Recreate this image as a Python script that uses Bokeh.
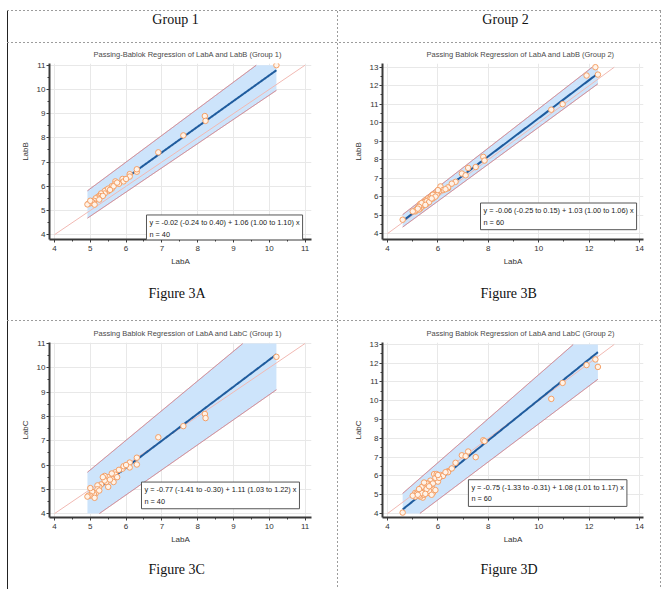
import numpy as np
from bokeh.plotting import figure
from bokeh.models import Range1d, Label, SingleIntervalTicker, Title, Spacer
from bokeh.layouts import row, column
from bokeh.embed import file_html
from bokeh.resources import INLINE

# ---------------- data ----------------
group_names = ["Group 1", "Group 2"]
figure_captions = ["Figure 3A", "Figure 3B", "Figure 3C", "Figure 3D"]
plot_titles = [
    "Passing-Bablok Regression of LabA and LabB (Group 1)",
    "Passing Bablok Regression of LabA and LabB (Group 2)",
    "Passing Bablok Regression of LabA and LabC (Group 1)",
    "Passing Bablok Regression of LabA and LabC (Group 2)",
]
x_label = "LabA"
y_labels = ["LabB", "LabB", "LabC", "LabC"]

g1_labA = [10.20, 8.20, 8.22, 7.60, 6.90, 6.30, 6.30, 6.10, 6.10, 5.90,
           5.93, 5.70, 5.70, 5.60, 5.50, 5.45, 5.40, 5.40, 5.30, 5.25,
           5.20, 5.20, 5.15, 5.10, 5.10, 5.05, 5.00, 4.95, 4.92, 5.12,
           5.60, 5.80, 5.50, 5.35, 5.65, 6.00, 5.25, 5.75, 5.55, 5.00]
g1_labB = [11.00, 8.90, 8.70, 8.10, 7.40, 6.60, 6.70, 6.50, 6.40, 6.30,
           6.20, 6.20, 6.10, 6.00, 5.80, 5.85, 5.80, 5.70, 5.70, 5.60,
           5.55, 5.50, 5.50, 5.40, 5.30, 5.35, 5.30, 5.28, 5.25, 5.24,
           5.90, 6.10, 5.90, 5.60, 6.00, 6.30, 5.45, 6.15, 5.85, 5.40]
g1_labC = [10.45, 8.10, 7.93, 7.60, 7.14, 6.30, 6.02, 6.10, 5.90, 5.85,
           5.95, 5.70, 5.60, 5.43, 5.50, 5.30, 5.55, 5.36, 5.20, 5.10,
           5.16, 5.00, 4.83, 4.75, 4.80, 4.90, 4.74, 4.74, 4.70, 4.65,
           5.65, 5.80, 5.10, 5.50, 5.30, 6.00, 4.95, 5.50, 5.40, 5.05]

g2_labA = [12.25, 11.90, 12.35, 10.95, 10.50, 7.80, 7.85, 7.20, 7.50, 6.95,
           7.10, 6.70, 6.40, 6.10, 6.40, 5.85, 5.70, 5.60, 5.40, 5.30,
           5.10, 4.60, 6.00, 5.80, 5.80, 5.60, 5.20, 5.40, 5.15, 5.50,
           5.50, 5.30, 5.70, 5.90, 5.60, 5.35, 5.45, 5.65, 5.25, 5.55,
           6.20, 6.05, 5.75, 5.95, 5.30, 5.10, 5.45, 5.55, 5.80, 6.30,
           5.65, 5.35, 5.25, 5.00, 5.90, 6.55, 5.75, 5.50, 5.20, 6.00]
g2_labB = [13.00, 12.55, 12.60, 11.00, 10.70, 8.15, 7.95, 7.55, 7.60, 7.25,
           7.15, 6.80, 6.45, 6.55, 6.50, 6.15, 5.95, 5.80, 5.60, 5.35,
           5.20, 4.75, 6.20, 6.00, 5.90, 5.75, 5.40, 5.50, 5.30, 5.65,
           5.80, 5.50, 5.85, 6.05, 5.90, 5.45, 5.70, 5.85, 5.30, 5.60,
           6.35, 6.30, 6.05, 6.10, 5.60, 5.25, 5.55, 5.75, 6.10, 6.40,
           5.70, 5.65, 5.45, 5.20, 6.00, 6.70, 5.90, 5.55, 5.35, 6.35]
g2_labC = [12.20, 11.90, 11.80, 10.95, 10.10, 7.90, 7.85, 7.30, 7.00, 7.10,
           7.05, 6.70, 6.25, 6.05, 6.20, 6.10, 5.75, 5.60, 5.45, 5.30,
           5.10, 4.05, 5.70, 5.30, 5.10, 5.10, 5.10, 4.85, 5.05, 5.50,
           5.20, 4.90, 5.50, 5.90, 5.35, 5.40, 5.00, 5.20, 4.95, 5.60,
           6.00, 5.90, 5.55, 6.10, 5.20, 4.90, 5.65, 5.30, 5.60, 6.20,
           5.45, 5.10, 5.30, 4.95, 5.25, 6.40, 5.00, 5.05, 5.00, 6.05]

# Passing-Bablok estimates: [estimate, lower 95% CI, upper 95% CI]
intercepts = [[-0.02, -0.24, 0.40], [-0.06, -0.25, 0.15],
              [-0.77, -1.41, -0.30], [-0.75, -1.33, -0.31]]
slopes = [[1.06, 1.00, 1.10], [1.03, 1.00, 1.06],
          [1.11, 1.03, 1.22], [1.08, 1.01, 1.17]]

panel_x = [g1_labA, g2_labA, g1_labA, g2_labA]
panel_y = [g1_labB, g2_labB, g1_labC, g2_labC]

# ---------------- styles / layout ----------------
DASH_V = {"background-image": "repeating-linear-gradient(to bottom, #9c9c9c 0px, #9c9c9c 2px, transparent 2px, transparent 4px)"}
DASH_H = {"background-image": "repeating-linear-gradient(to right, #9c9c9c 0px, #9c9c9c 2px, transparent 2px, transparent 4px)"}
SOLID = {"background-color": "#222222"}

specs = [
    dict(w=329, h=277, b=(41, 26, 20, 81), xr=(3.86, 11.18), yr=(3.80, 11.07),
         cx=(4, 11), cy=(4, 11), xt=1, eq=(6.57, 3.71), cap_off=99, cap_sd=30),
    dict(w=322, h=277, b=(44, 17, 19, 79), xr=(3.80, 14.16), yr=(3.68, 13.20),
         cx=(4, 14), cy=(4, 13), xt=2, eq=(7.69, 4.21), cap_off=98, cap_sd=30),
    dict(w=329, h=268, b=(41, 26, 21, 72), xr=(3.86, 11.18), yr=(3.84, 11.04),
         cx=(4, 11), cy=(4, 11), xt=1, eq=(6.43, 4.20), cap_off=99, cap_sd=26),
    dict(w=322, h=268, b=(44, 17, 21, 72), xr=(3.80, 14.16), yr=(3.79, 13.10),
         cx=(4, 14), cy=(4, 13), xt=2, eq=(7.21, 4.38), cap_off=98, cap_sd=26),
]


def make_panel(i):
    s = specs[i]
    xs = np.array(panel_x[i], dtype=float)
    ys = np.array(panel_y[i], dtype=float)
    a, b = intercepts[i], slopes[i]
    p = figure(width=s["w"], height=s["h"],
               x_range=Range1d(*s["xr"]), y_range=Range1d(*s["yr"]),
               output_backend="svg", toolbar_location=None,
               min_border_left=s["b"][0], min_border_right=s["b"][1],
               min_border_top=s["b"][2], min_border_bottom=s["b"][3])
    p.outline_line_color = None
    p.background_fill_color = "white"
    p.border_fill_color = "white"

    p.title.text = plot_titles[i]
    p.title.align = "left"
    p.title.offset = 44
    p.title.text_font = "Liberation Sans"
    p.title.text_font_size = "7.5px"
    p.title.text_font_style = "normal"
    p.title.text_color = "#4a4a4a"
    p.title.standoff = 9

    ylo, yhi = s["cy"]
    xx = np.linspace(xs.min(), xs.max(), 600)
    upper = a[2] + b[2] * xx
    lower = a[1] + b[1] * xx
    p.varea(x=xx, y1=np.clip(lower, ylo, yhi), y2=np.clip(upper, ylo, yhi),
            fill_color="#cde4fb", fill_alpha=1.0)
    up_line = np.where((upper <= yhi) & (upper >= ylo), upper, np.nan)
    lo_line = np.where((lower <= yhi) & (lower >= ylo), lower, np.nan)
    p.line(xx, up_line, line_color="#c8646e", line_width=1, line_alpha=0.9)
    p.line(xx, lo_line, line_color="#c8646e", line_width=1, line_alpha=0.9)

    lim = min(s["cx"][1], s["cy"][1])
    p.line([s["cx"][0], lim], [s["cy"][0], lim], line_color="#f1b9b3", line_width=1)

    fit = a[0] + b[0] * xx
    fit = np.where((fit <= yhi) & (fit >= ylo), fit, np.nan)
    p.line(xx, fit, line_color="#1f5c9e", line_width=2)

    p.scatter(xs, ys, marker="circle", size=5.5, fill_color="#fff3e8",
              line_color="#f4a067", line_width=1)

    eq = (f"y = {a[0]:.2f} ({a[1]:.2f} to {a[2]:.2f}) + {b[0]:.2f} "
          f"({b[1]:.2f} to {b[2]:.2f}) x\nn = {len(xs)}")
    p.add_layout(Label(x=s["eq"][0], y=s["eq"][1], text=eq,
                       text_align="left", text_baseline="bottom",
                       text_font="Liberation Sans", text_font_size="7.3px",
                       text_color="#222222", text_line_height=1.3,
                       background_fill_color="white",
                       border_line_color="#555555", border_line_width=1,
                       padding=3))

    p.add_layout(Title(text=figure_captions[i], align="left",
                       offset=s["cap_off"], standoff=s["cap_sd"],
                       text_font="Liberation Serif", text_font_size="14px",
                       text_font_style="normal", text_color="#111111"), "below")

    p.xaxis.ticker = SingleIntervalTicker(interval=s["xt"], num_minor_ticks=2)
    p.yaxis.ticker = SingleIntervalTicker(interval=1, num_minor_ticks=2)
    p.xaxis.axis_label = x_label
    p.yaxis.axis_label = y_labels[i]
    for ax in (p.xaxis[0], p.yaxis[0]):
        ax.axis_line_width = 2
        ax.axis_line_color = "#3a3a3a"
        ax.major_tick_line_color = "#3a3a3a"
        ax.minor_tick_line_color = "#3a3a3a"
        ax.major_tick_in = 0
        ax.major_tick_out = 3
        ax.minor_tick_in = 0
        ax.minor_tick_out = 2
        ax.major_label_text_font = "Liberation Sans"
        ax.major_label_text_font_size = "8px"
        ax.major_label_text_color = "#333333"
        ax.axis_label_text_font = "Liberation Sans"
        ax.axis_label_text_font_size = "8px"
        ax.axis_label_text_font_style = "normal"
        ax.axis_label_text_color = "#333333"
    p.xaxis.major_label_standoff = 3
    p.xaxis.axis_label_standoff = 3
    p.yaxis.major_label_standoff = 1
    p.yaxis.axis_label_standoff = 4
    p.grid.grid_line_color = "#e8e8e8"
    p.grid.grid_line_width = 1
    return p


def make_header(j, width):
    h = figure(width=width, height=31, x_range=Range1d(0, width), y_range=Range1d(0, 31),
               output_backend="svg", toolbar_location=None, min_border=0,
               x_axis_location=None, y_axis_location=None)
    h.grid.visible = False
    h.outline_line_color = None
    h.border_fill_color = "white"
    h.add_layout(Label(x=167, y=23, text=group_names[j],
                       text_align="center", text_baseline="middle",
                       text_font="Liberation Serif", text_font_size="14px",
                       text_color="#111111"))
    return h


def vline(hgt, style):
    return Spacer(width=1, height=hgt, styles=style)


def hline(wid):
    return Spacer(width=wid, height=1, styles=DASH_H)


panels = [make_panel(i) for i in range(4)]
hdr1 = make_header(0, 329)
hdr2 = make_header(1, 322)
TOTAL_W = 1 + 329 + 1 + 322 + 1

table = column(
    hline(TOTAL_W),
    row(vline(31, SOLID), hdr1, vline(31, DASH_V), hdr2, vline(31, DASH_V)),
    hline(TOTAL_W),
    row(vline(277, SOLID), panels[0], vline(277, DASH_V), panels[1], vline(277, DASH_V)),
    hline(TOTAL_W),
    row(vline(268, SOLID), panels[2], vline(268, DASH_V), panels[3], vline(268, DASH_V)),
)

page = column(Spacer(width=1, height=10), row(Spacer(width=7, height=1), table))

open("out.html", "w").write(file_html(page, INLINE))
